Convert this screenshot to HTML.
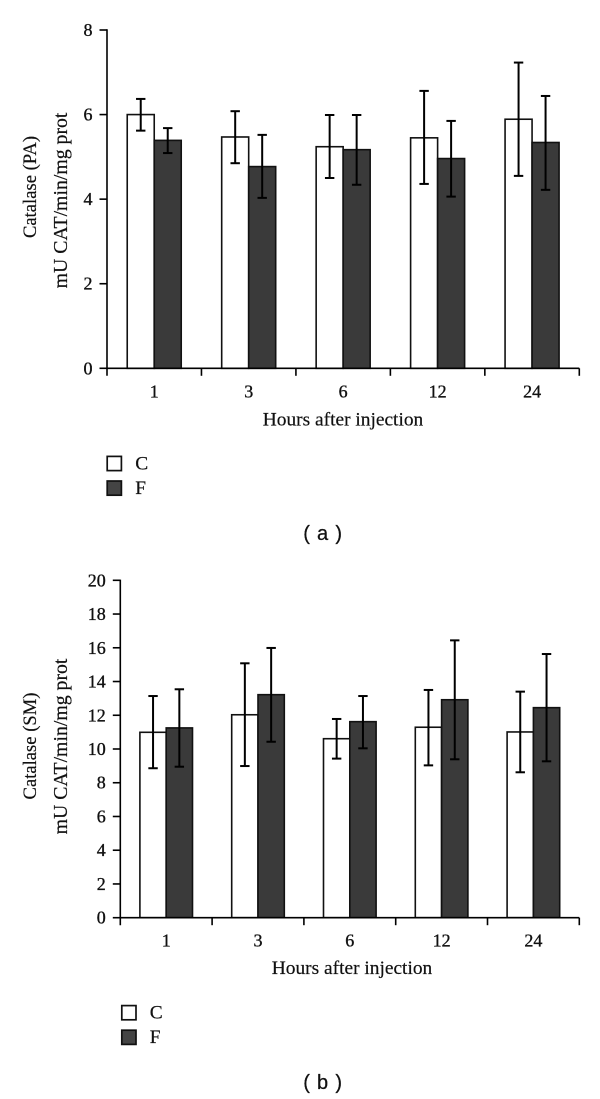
<!DOCTYPE html>
<html>
<head>
<meta charset="utf-8">
<title>Catalase charts</title>
<style>
html,body{margin:0;padding:0;background:#fff;width:600px;height:1099px;overflow:hidden}
svg{display:block}
text{font-family:"Liberation Serif",serif;font-size:19.4px;fill:#111;stroke:#111;stroke-width:.2}
.tick{font-size:18px;stroke-width:.35}
.title1{font-size:18.6px}
.title2{font-size:19.8px}
.cap{font-family:"Liberation Sans",sans-serif;font-size:20px;letter-spacing:.8px;stroke-width:.25}
</style>
</head>
<body>
<svg id="figure" xmlns="http://www.w3.org/2000/svg" width="600" height="1099" viewBox="0 0 600 1099"></svg>
<script>
var categories = ['1', '3', '6', '12', '24'];

var paTicks = [0, 2, 4, 6, 8];
var paControl = [6.0, 5.47, 5.24, 5.45, 5.89];
var paControlHigh = [6.37, 6.08, 5.99, 6.56, 7.23];
var paControlLow = [5.62, 4.85, 4.5, 4.36, 4.55];
var paFluoride = [5.39, 4.77, 5.17, 4.96, 5.34];
var paFluorideHigh = [5.68, 5.52, 5.99, 5.85, 6.44];
var paFluorideLow = [5.09, 4.03, 4.34, 4.06, 4.22];

var smTicks = [0, 2, 4, 6, 8, 10, 12, 14, 16, 18, 20];
var smControl = [10.99, 12.03, 10.61, 11.29, 11.01];
var smControlHigh = [13.14, 15.08, 11.78, 13.5, 13.4];
var smControlLow = [8.86, 8.99, 9.43, 9.03, 8.62];
var smFluoride = [11.25, 13.22, 11.62, 12.92, 12.45];
var smFluorideHigh = [13.54, 15.99, 13.14, 16.44, 15.63];
var smFluorideLow = [8.95, 10.43, 10.04, 9.39, 9.27];

var svg = document.getElementById('figure');
var NS = 'http://www.w3.org/2000/svg';

function mk(parent, tag, attrs, txt) {
  var el = document.createElementNS(NS, tag);
  for (var k in attrs) el.setAttribute(k, attrs[k]);
  if (txt !== undefined) el.textContent = txt;
  parent.appendChild(el);
  return el;
}
function line(parent, x1, y1, x2, y2, w) {
  return mk(parent, 'line', {x1: x1, y1: y1, x2: x2, y2: y2, stroke: '#000', 'stroke-width': w});
}

function drawChart(c) {
  var g = mk(svg, 'g', {});
  
  

  var yScale = function (v) { return c.y0 - (v - c.ticks[0]) / (c.ticks[c.ticks.length - 1] - c.ticks[0]) * (c.y0 - c.yTop); };
  var band = (c.xEnd - c.xAxis) / categories.length;
  var xCenter = function (i) { return c.xAxis + band * (i + 0.5); };

  categories.forEach(function (cat, i) {
    var cx = xCenter(i);
    var whiteBar = mk(g, 'rect', {x: cx - c.bw, y: yScale(c.ctrl[i]), width: c.bw, height: c.y0 - yScale(c.ctrl[i]), fill: '#fff', stroke: '#111', 'stroke-width': 1.6});
    
    
    var darkBar = mk(g, 'rect', {x: cx, y: yScale(c.fluo[i]), width: c.bw, height: c.y0 - yScale(c.fluo[i]), fill: '#3a3a3a', stroke: '#111', 'stroke-width': 1.6});
    
    
  });

  categories.forEach(function (cat, i) {
    var cx = xCenter(i);
    [[cx - c.bw / 2, c.ctrlHi[i], c.ctrlLo[i], 'c'], [cx + c.bw / 2, c.fluoHi[i], c.fluoLo[i], 'f']].forEach(function (e) {
      var eg = mk(g, 'g', {});
      
      
      line(eg, e[0], yScale(e[1]), e[0], yScale(e[2]), 2);
      line(eg, e[0] - 4.7, yScale(e[1]), e[0] + 4.7, yScale(e[1]), 2);
      line(eg, e[0] - 4.7, yScale(e[2]), e[0] + 4.7, yScale(e[2]), 2);
    });
  });

  var yAxis = mk(g, 'g', {});
  
  
  line(yAxis, c.xAxis, c.yTop - 0.7, c.xAxis, c.y0 + 7.5, 1.6);
  c.ticks.forEach(function (t) {
    var py = yScale(t);
    line(yAxis, c.xAxis - 7.5, py, c.xAxis, py, 1.6);
    var lbl = mk(yAxis, 'text', {x: c.xAxis - 14.5, y: py + 6, 'text-anchor': 'end', 'class': 'tick'}, String(t));
    
    
  });

  var xAxis = mk(g, 'g', {});
  
  
  line(xAxis, c.xAxis, c.y0, c.xEnd, c.y0, 1.6);
  for (var j = 1; j <= categories.length; j++) {
    line(xAxis, c.xAxis + band * j, c.y0, c.xAxis + band * j, c.y0 + 7.5, 1.6);
  }
  categories.forEach(function (cat, i) {
    var lbl = mk(xAxis, 'text', {x: xCenter(i), y: c.y0 + 29, 'text-anchor': 'middle', 'class': 'tick'}, cat);
    
    
  });

  var xTitle = mk(g, 'text', {x: c.xTitleX, y: c.xTitleY, 'text-anchor': 'middle'}, 'Hours after injection');
  
  

  var yTitle1 = mk(g, 'text', {transform: 'translate(36,' + c.yTitle1 + ') rotate(-90)', 'text-anchor': 'middle', 'class': 'title1'}, c.title);
  
  
  var yTitle2 = mk(g, 'text', {transform: 'translate(67,' + c.yTitle2 + ') rotate(-90)', 'text-anchor': 'middle', 'class': 'title2'}, 'mU CAT/min/mg prot');
  
  

  var legC = mk(g, 'g', {});
  
  
  mk(legC, 'rect', {x: c.legX, y: c.legY, width: 14.2, height: 14.2, fill: '#fff', stroke: '#111', 'stroke-width': 1.7});
  mk(legC, 'text', {x: c.legX + 28, y: c.legY + 13}, 'C');

  var legF = mk(g, 'g', {});
  
  
  mk(legF, 'rect', {x: c.legX, y: c.legY + 24.6, width: 14.2, height: 14.2, fill: '#444', stroke: '#111', 'stroke-width': 1.7});
  mk(legF, 'text', {x: c.legX + 28, y: c.legY + 37.5}, 'F');

  var cap = mk(g, 'text', {x: c.capX, y: c.capY, 'text-anchor': 'middle', 'class': 'cap'}, c.caption);
  
  
}

drawChart({
  id: 'pa', title: 'Catalase (PA)', caption: '( a )',
  ticks: paTicks, ctrl: paControl, ctrlHi: paControlHigh, ctrlLo: paControlLow,
  fluo: paFluoride, fluoHi: paFluorideHigh, fluoLo: paFluorideLow,
  xAxis: 107, xEnd: 579.3, yTop: 30, y0: 368.3, bw: 27,
  xTitleX: 343, xTitleY: 425.5, yTitle1: 187, yTitle2: 200.5,
  legX: 107.2, legY: 456.4, capX: 323, capY: 540
});

drawChart({
  id: 'sm', title: 'Catalase (SM)', caption: '( b )',
  ticks: smTicks, ctrl: smControl, ctrlHi: smControlHigh, ctrlLo: smControlLow,
  fluo: smFluoride, fluoHi: smFluorideHigh, fluoLo: smFluorideLow,
  xAxis: 120.3, xEnd: 579.3, yTop: 580.3, y0: 917.7, bw: 26.3,
  xTitleX: 352, xTitleY: 974, yTitle1: 746, yTitle2: 746.5,
  legX: 121.8, legY: 1005.6, capX: 323, capY: 1089
});
</script>
</body>
</html>
